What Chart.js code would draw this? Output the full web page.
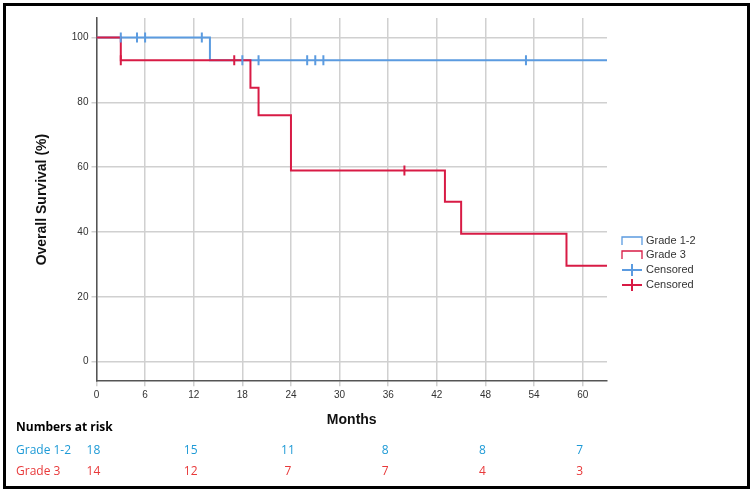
<!DOCTYPE html>
<html>
<head>
<meta charset="utf-8">
<script src="https://cdn.jsdelivr.net/npm/chart.js@4"></script>
<style>
  body { margin: 0; background: #fff; }
  #wrap { width: 753px; height: 492px; position: relative; }
  #frame { position: absolute; left: 3px; top: 3px; width: 741px; height: 480px; border: 3px solid #000; pointer-events: none; }
</style>
</head>
<body>
<div id="wrap">
  <canvas id="km" width="753" height="492"></canvas>
  <div id="frame"></div>
</div>
<script>
// ====== Data ======
const grade12Steps = [[0,100],[14,100],[14,93],[63,93]];
const grade3Steps = [[0,100],[3,100],[3,93],[19,93],[19,84.5],[20,84.5],[20,76],[24,76],[24,59],[43,59],[43,49.3],[45,49.3],[45,39.5],[58,39.5],[58,29.6],[63,29.6]];
const grade12Censored = [[3,100],[5,100],[6,100],[13,100],[18,93],[20,93],[26,93],[27,93],[28,93],[53,93]];
const grade3Censored = [[3,93],[17,93],[38,59]];
const riskTimes = [0, 12, 24, 36, 48, 60];
const riskGrade12 = [18, 15, 11, 8, 8, 7];
const riskGrade3 = [14, 12, 7, 7, 4, 3];
const yTicks = [0, 20, 40, 60, 80, 100];

const BLUE = '#5b9be0';
const RED = '#d81b45';
const toXY = arr => arr.map(p => ({ x: p[0], y: p[1] }));

// ====== Legend + risk table drawn on canvas ======
const extras = {
    id: 'extras',
    afterDraw(chart) {
        const c = chart.ctx, xs = chart.scales.x;
        c.save();
        // legend
        const lx = 622, items = [
            { label: 'Grade 1-2', color: BLUE, tick: false, y: 241 },
            { label: 'Grade 3', color: RED, tick: false, y: 255 },
            { label: 'Censored', color: BLUE, tick: true, y: 270 },
            { label: 'Censored', color: RED, tick: true, y: 285 }
        ];
        c.font = '11px "Liberation Sans", Arial';
        c.textBaseline = 'middle';
        items.forEach(it => {
            c.strokeStyle = it.color;
            c.lineWidth = it.tick ? 2 : 1.3;
            c.beginPath();
            if (it.tick) {
                c.moveTo(lx, it.y); c.lineTo(lx + 20, it.y);
                c.moveTo(lx + 10, it.y - 6); c.lineTo(lx + 10, it.y + 6);
            } else {
                c.moveTo(lx, it.y + 4); c.lineTo(lx, it.y - 4); c.lineTo(lx + 20, it.y - 4); c.lineTo(lx + 20, it.y + 4);
            }
            c.stroke();
            c.fillStyle = '#333';
            c.textAlign = 'left';
            c.fillText(it.label, lx + 24, it.y);
        });
        // numbers at risk
        c.fillStyle = '#000';
        c.font = 'bold 12px "Open Sans", Arial';
        c.fillText('Numbers at risk', 16, 428);
        c.font = '12px "Open Sans", Arial';
        [[riskGrade12, 'Grade 1-2', '#1e9ad6', 451], [riskGrade3, 'Grade 3', '#e8393a', 472]].forEach(([vals, name, col, y]) => {
            c.fillStyle = col;
            c.textAlign = 'left';
            c.fillText(name, 16, y);
            c.textAlign = 'center';
            vals.forEach((v, i) => c.fillText(String(v), xs.getPixelForValue(riskTimes[i]) - 3, y));
        });
        c.restore();
    }
};

new Chart(document.getElementById('km'), {
    type: 'scatter',
    data: {
        datasets: [
            { data: toXY(grade12Steps), showLine: true, borderColor: BLUE, borderWidth: 2, pointRadius: 0, order: 2 },
            { data: toXY(grade3Steps), showLine: true, borderColor: RED, borderWidth: 2, pointRadius: 0, order: 1 },
            { data: toXY(grade12Censored), pointStyle: 'line', rotation: 90, radius: 5, borderColor: BLUE, borderWidth: 2, order: 0 },
            { data: toXY(grade3Censored), pointStyle: 'line', rotation: 90, radius: 5, borderColor: RED, borderWidth: 2, order: 0 }
        ]
    },
    options: {
        responsive: false,
        animation: false,
        layout: { padding: { left: 30, right: 146, top: 18, bottom: 59 } },
        plugins: { legend: { display: false }, tooltip: { enabled: false } },
        scales: {
            x: {
                type: 'linear', min: 0, max: 63,
                afterBuildTicks: s => { s.ticks = riskTimes.concat([6, 18, 30, 42, 54]).sort((a, b) => a - b).map(v => ({ value: v })); },
                grid: { color: '#d0d0d0', lineWidth: 1.5, drawTicks: true, tickLength: 5 },
                border: { color: '#555', width: 1.5 },
                ticks: { color: '#333', font: { size: 10, family: 'Liberation Sans' }, autoSkip: false, maxRotation: 0 },
                title: { display: true, text: 'Months', color: '#111', font: { size: 14, weight: 'bold', family: 'Liberation Sans' }, padding: { top: 8 } }
            },
            y: {
                min: -6, max: 106,
                afterBuildTicks: s => { s.ticks = yTicks.map(v => ({ value: v })); },
                grid: { color: '#d0d0d0', lineWidth: 1.5, tickLength: 5 },
                border: { color: '#555', width: 1.5 },
                ticks: { color: '#333', font: { size: 10, family: 'Liberation Sans' } },
                title: { display: true, text: 'Overall Survival (%)', color: '#111', font: { size: 14, weight: 'bold', family: 'Liberation Sans' }, padding: { bottom: 18 } }
            }
        }
    },
    plugins: [extras]
});
</script>
</body>
</html>
